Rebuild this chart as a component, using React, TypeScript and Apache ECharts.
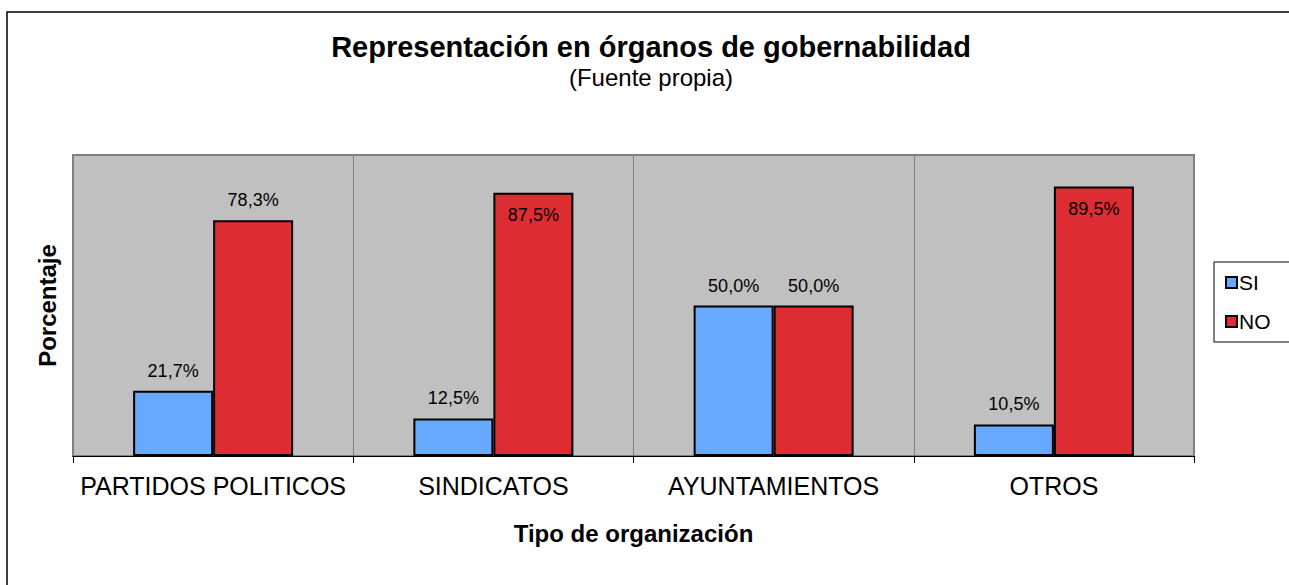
import React, { useEffect, useRef } from "react";
import * as echarts from "echarts";

const categories = ["PARTIDOS POLITICOS", "SINDICATOS", "AYUNTAMIENTOS", "OTROS"];
const siValues = [21.7, 12.5, 50.0, 10.5];
const noValues = [78.3, 87.5, 50.0, 89.5];
const insideLabelThreshold = 85;

const FONT = "Arial, 'Liberation Sans', sans-serif";

function fmt(v: number) {
  return v.toFixed(1).replace(".", ",") + "%";
}

function buildData(values: number[]) {
  return values.map((v) =>
    v > insideLabelThreshold
      ? { value: v, label: { position: "insideTop", distance: 13 } }
      : { value: v }
  );
}

export default function App() {
  const ref = useRef<HTMLDivElement>(null);
  useEffect(() => {
    if (!ref.current) return;
    const chart = echarts.init(ref.current, undefined, { renderer: "svg" });
    const labelCfg = {
      show: true,
      position: "top",
      distance: 11,
      color: "#000",
      fontFamily: FONT,
      fontSize: 18,
      formatter: (p: any) => fmt(p.value),
    };
    chart.setOption({
      animation: false,
      backgroundColor: "#fff",
      textStyle: { fontFamily: FONT },
      graphic: [
        {
          type: "rect",
          shape: { x: 7, y: 12, width: 1400, height: 700 },
          style: { fill: "none", stroke: "#000", lineWidth: 1.5 },
          silent: true,
        },
        {
          type: "text",
          x: 651,
          y: 47,
          style: {
            text: "Representación en órganos de gobernabilidad",
            font: `bold 29px ${FONT}`,
            fill: "#000",
            align: "center",
            verticalAlign: "middle",
          },
        },
        {
          type: "text",
          x: 651,
          y: 77,
          style: {
            text: "(Fuente propia)",
            font: `24px ${FONT}`,
            fill: "#000",
            align: "center",
            verticalAlign: "middle",
          },
        },
      ],
      legend: {
        orient: "vertical",
        left: 1214,
        top: 262,
        padding: [10, 60, 10, 11],
        itemGap: 18,
        itemWidth: 11,
        itemHeight: 11,
        borderColor: "#000",
        borderWidth: 1,
        icon: "rect",
        textStyle: { fontFamily: FONT, fontSize: 21, color: "#000", padding: [0, 0, 0, -3] },
        data: ["SI", "NO"],
      },
      grid: {
        left: 73,
        top: 155,
        right: 95,
        bottom: 129,
        show: true,
        backgroundColor: "#C0C0C0",
        borderColor: "#808080",
        borderWidth: 2,
      },
      xAxis: {
        type: "category",
        data: categories,
        name: "Tipo de organización",
        nameLocation: "middle",
        nameGap: 65,
        nameTextStyle: { fontFamily: FONT, fontSize: 24, fontWeight: "bold", color: "#000" },
        axisLine: { show: true, lineStyle: { color: "#000", width: 1 } },
        axisTick: { show: true, interval: 0, length: 7, lineStyle: { color: "#000" } },
        axisLabel: { interval: 0, fontFamily: FONT, fontSize: 25, color: "#000", margin: 17 },
        splitLine: { show: true, interval: 0, lineStyle: { color: "#808080", width: 1 } },
      },
      yAxis: {
        type: "value",
        min: 0,
        max: 100,
        name: "Porcentaje",
        nameLocation: "middle",
        nameGap: 14,
        nameRotate: 90,
        nameTextStyle: { fontFamily: FONT, fontSize: 24, fontWeight: "bold", color: "#000" },
        axisLine: { show: false },
        axisTick: { show: false },
        axisLabel: { show: false },
        splitLine: { show: false },
      },
      series: [
        {
          name: "SI",
          type: "bar",
          data: buildData(siValues),
          barWidth: 80,
          barGap: "0%",
          itemStyle: { color: "#66A9FF", borderColor: "#000", borderWidth: 2 },
          label: labelCfg,
        },
        {
          name: "NO",
          type: "bar",
          data: buildData(noValues),
          barWidth: 80,
          barGap: "0%",
          itemStyle: { color: "#DE2C33", borderColor: "#000", borderWidth: 2 },
          label: labelCfg,
        },
      ],
    });
    return () => chart.dispose();
  }, []);
  return (
    <div
      ref={ref}
      style={{ position: "absolute", left: 0, top: 0, width: 1289, height: 585 }}
    />
  );
}
